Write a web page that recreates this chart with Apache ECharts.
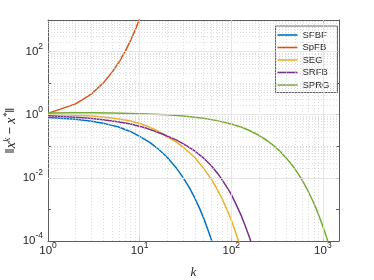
<!DOCTYPE html>
<html><head><meta charset="utf-8">
<script src="https://cdn.jsdelivr.net/npm/echarts@6/dist/echarts.min.js"></script>
<style>html,body{margin:0;padding:0;background:#fff}#c{width:374px;height:280px}</style>
</head><body><div id="c"></div>
<script>
// ---- data ----
const seriesNames = ['SFBF', 'SpFB', 'SEG', 'SRFB', 'SPRG'];

const kSFBF = [1, 2, 3, 4, 5, 6, 8, 10, 13, 16, 20, 25, 30, 35, 40, 45, 50, 55, 60, 65];
const vSFBF = [0.82, 0.72, 0.62, 0.54, 0.46, 0.40, 0.29, 0.205, 0.13, 0.082, 0.045, 0.021, 0.0100, 0.0048, 0.0023, 0.00110, 0.00053, 0.00025, 0.000122, 0.000058];

const kSpFB = [1, 2, 3, 4, 5, 6, 7, 8, 9, 10, 11];
const vSpFB = [1.1, 2.2, 4.6, 10, 22, 48, 105, 230, 500, 1100, 2400];

const kSEG = [1, 2, 3, 4, 6, 8, 10, 12, 16, 20, 25, 30, 40, 50, 60, 70, 80, 90, 100, 110, 120, 130];
const vSEG = [1.03, 0.97, 0.91, 0.85, 0.73, 0.63, 0.53, 0.44, 0.30, 0.20, 0.138, 0.093, 0.044, 0.020, 0.0095, 0.0045, 0.0021, 0.00098, 0.00046, 0.00021, 0.000100, 0.000047];

const kSRFB = [1, 2, 3, 4, 6, 8, 12, 18, 25, 30, 40, 50, 60, 75, 90, 100, 115, 130, 145, 160, 175];
const vSRFB = [0.92, 0.83, 0.76, 0.69, 0.59, 0.51, 0.37, 0.24, 0.16, 0.12, 0.071, 0.042, 0.025, 0.0112, 0.0050, 0.0030, 0.0013, 0.00059, 0.00026, 0.000117, 0.000052];

const kSPRG = [1, 2, 3, 5, 10, 20, 30, 50, 70, 100, 130, 160, 200, 250, 300, 350, 400, 450, 500, 550, 600, 650, 700, 750, 800, 850, 900, 950, 1000, 1050, 1100, 1150, 1200];
const vSPRG = [1.14, 1.15, 1.15, 1.13, 1.08, 0.99, 0.91, 0.77, 0.65, 0.51, 0.40, 0.31, 0.223, 0.147, 0.097, 0.064, 0.042, 0.028, 0.0185, 0.0122, 0.0081, 0.0053, 0.0035, 0.0023, 0.00154, 0.00102, 0.00067, 0.00044, 0.00029, 0.000194, 0.000128, 0.000085, 0.000056];

const xTickExps = [0, 1, 2, 3];       // labelled x ticks 10^e
const yTickExps = [-4, -2, 0, 2];     // labelled y ticks 10^e
const xRange = [1, 1500];
const yRange = [1e-4, 1e3];

// ---- styling ----
const colors = ['#0072BD', '#D95319', '#EDB120', '#7E2F8E', '#77AC30'];
const FONT = '"Liberation Sans", Arial, Helvetica, sans-serif';
const SERIF = '"Liberation Serif", "Times New Roman", serif';
const TXT = '#262626';
const AX = '#5e5e5e';

function pairs(k, v) { return k.map((x, i) => [x, v[i]]); }
function expOf(v) { const e = Math.log10(v); const r = Math.round(e); return Math.abs(e - r) < 1e-6 ? r : null; }
const tickRich = {
  b: { fontSize: 11.5, fontFamily: FONT, color: TXT, lineHeight: 13 },
  s: { fontSize: 8.5, fontFamily: FONT, color: TXT, lineHeight: 13, padding: [0, 0, 10, 0] }
};
function fmt(list) {
  return function (v) {
    const e = expOf(v);
    if (e === null || list.indexOf(e) < 0) return '';
    return '{b|10}{s|' + e + '}';
  };
}

// grid lines (MATLAB style: solid major, dotted minor)
const majorX = xTickExps.slice(1).map(e => Math.pow(10, e));
const majorY = yTickExps.slice(1).map(e => Math.pow(10, e));
const minorX = [];
for (let d = 0; d <= 3; d++) for (let m = 2; m <= 9; m++) { const v = m * Math.pow(10, d); if (v < xRange[1]) minorX.push(v); }
const minorY = [];
for (let d = -4; d <= 2; d++) for (let m = 2; m <= 9; m++) minorY.push(m * Math.pow(10, d));
[1e-3, 1e-1, 1e1].forEach(v => minorY.push(v));

const minorStyle = { color: '#cfcfcf', width: 0.7, type: [1, 2] };
const majorStyle = { color: '#e0e0e0', width: 0.8, type: 'solid' };
const gridLines = []
  .concat(minorX.map(v => ({ xAxis: v, lineStyle: minorStyle })))
  .concat(minorY.map(v => ({ yAxis: v, lineStyle: minorStyle })))
  .concat(majorX.map(v => ({ xAxis: v, lineStyle: majorStyle })))
  .concat(majorY.map(v => ({ yAxis: v, lineStyle: majorStyle })));

const dataK = [kSFBF, kSpFB, kSEG, kSRFB, kSPRG];
const dataV = [vSFBF, vSpFB, vSEG, vSRFB, vSPRG];

const series = [{
  type: 'line', name: '_grid', data: [], silent: true, z: 1,
  markLine: { silent: true, symbol: ['none', 'none'], animation: false, label: { show: false },
    emphasis: { disabled: true }, data: gridLines }
}];
seriesNames.forEach((n, i) => {
  series.push({
    type: 'line', name: n, data: pairs(dataK[i], dataV[i]), z: 3,
    color: colors[i], showSymbol: false, symbol: 'none', clip: true,
    lineStyle: { color: colors[i], width: 1.5 },
    emphasis: { disabled: true }
  });
});

const baseAxis = {
  axisLine: { show: true, onZero: false, lineStyle: { color: AX, width: 1 } },
  axisTick: { show: true, inside: true, length: 3, lineStyle: { color: AX, width: 1 } },
  splitLine: { show: false }, minorTick: { show: false }, minorSplitLine: { show: false }
};

const chart = echarts.init(document.getElementById('c'), null, { renderer: 'canvas' });
chart.setOption({
  animation: false,
  backgroundColor: '#fff',
  grid: { left: 48, right: 35, top: 20, bottom: 39, containLabel: false, outerBoundsMode: 'none' },
  legend: {
    data: seriesNames, orient: 'vertical', left: 275.5, top: 26,
    icon: 'rect', itemWidth: 20, itemHeight: 1.6, itemGap: 0.5,
    padding: [3, 8, 1.5, 2], backgroundColor: '#fff', borderColor: '#666', borderWidth: 1, borderRadius: 0,
    textStyle: { fontFamily: FONT, fontSize: 9.5, color: TXT, lineHeight: 12 },
    selectedMode: false
  },
  xAxis: [
    Object.assign({}, baseAxis, {
      type: 'log', logBase: 10, min: xRange[0], max: xRange[1], position: 'bottom',
      axisLabel: { formatter: fmt(xTickExps), rich: tickRich, margin: 3 },
      name: 'k', nameLocation: 'middle', nameGap: 25, nameMoveOverlap: false,
      nameTextStyle: { fontFamily: SERIF, fontStyle: 'italic', fontSize: 13, color: TXT }
    }),
    Object.assign({}, baseAxis, {
      type: 'log', logBase: 10, min: xRange[0], max: xRange[1], position: 'top',
      axisLabel: { show: false }
    })
  ],
  yAxis: [
    Object.assign({}, baseAxis, {
      type: 'log', logBase: 10, min: yRange[0], max: yRange[1], position: 'left',
      axisLabel: { formatter: fmt(yTickExps), rich: tickRich, margin: 5 },
      name: '{n|‖}{i|x}{s|k}{n| − }{i|x}{s|*}{n|‖}', nameLocation: 'middle', nameRotate: 90, nameGap: 28,
      nameMoveOverlap: false,
      nameTextStyle: { rich: {
        n: { fontSize: 12.5, fontFamily: FONT, color: TXT },
        i: { fontSize: 14, fontFamily: SERIF, fontStyle: 'italic', color: TXT },
        s: { fontSize: 9.5, fontFamily: SERIF, fontStyle: 'italic', color: TXT, padding: [0, 0, 8, 0] }
      } }
    }),
    Object.assign({}, baseAxis, {
      type: 'log', logBase: 10, min: yRange[0], max: yRange[1], position: 'right',
      axisLabel: { show: false }
    })
  ],
  series: series
});
</script>
</body></html>
